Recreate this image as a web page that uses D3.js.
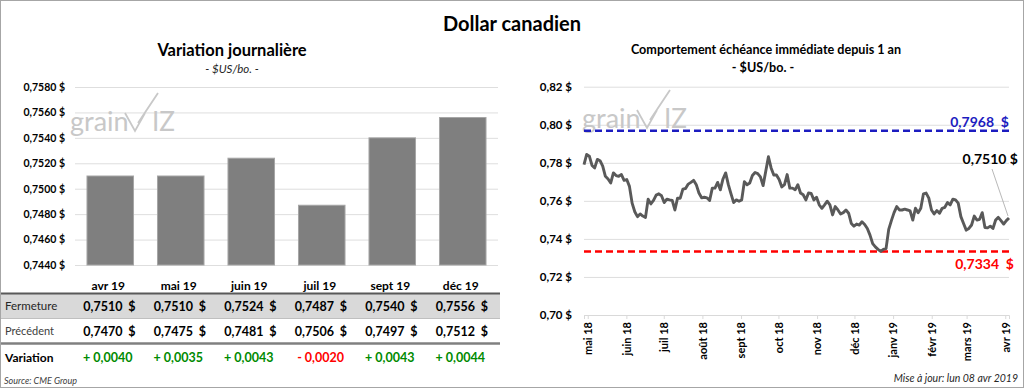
<!DOCTYPE html>
<html><head><meta charset="utf-8">
<script src="https://cdn.jsdelivr.net/npm/d3@7"></script>
<style>
body{margin:0;background:#fff;}
svg{display:block;font-family:Lato,"Open Sans",sans-serif;}
</style></head>
<body><svg id="c" width="1024" height="388"></svg>
<script>
// ---- data ----
const contracts = ["avr 19","mai 19","juin 19","juil 19","sept 19","déc 19"];
const closeVals = [0.7510,0.7510,0.7524,0.7487,0.7540,0.7556];
const prevVals  = [0.7470,0.7475,0.7481,0.7506,0.7497,0.7512];
const changeVals= [0.0040,0.0035,0.0043,-0.0020,0.0043,0.0044];
const leftTicks = [0.7440,0.7460,0.7480,0.7500,0.7520,0.7540,0.7560,0.7580];
const rightTicks = [0.70,0.72,0.74,0.76,0.78,0.80,0.82];
const monthLabels = ["mai 18","juin 18","juil 18","août 18","sept 18","oct 18","nov 18","déc 18","janv 19","févr 19","mars 19","avr 19"];
const periodStart = new Date(2018,3,28), periodEnd = new Date(2019,3,4);
const highLevel = 0.7968, lowLevel = 0.7334, lastLevel = 0.7510;
const history = [0.7791,0.7844,0.7835,0.7786,0.7773,0.7818,0.7811,0.7782,0.7729,0.7715,
0.7694,0.7747,0.7733,0.7729,0.7738,0.7708,0.7712,0.7676,0.7588,0.7543,
0.7517,0.7531,0.7520,0.7513,0.7609,0.7584,0.7602,0.7630,0.7637,0.7627,
0.7591,0.7609,0.7605,0.7602,0.7552,0.7614,0.7614,0.7662,0.7665,0.7688,
0.7697,0.7708,0.7685,0.7641,0.7616,0.7619,0.7616,0.7602,0.7667,0.7667,
0.7697,0.7658,0.7715,0.7747,0.7685,0.7637,0.7591,0.7605,0.7598,0.7605,
0.7701,0.7685,0.7694,0.7733,0.7749,0.7743,0.7726,0.7680,0.7756,0.7832,
0.7773,0.7736,0.7736,0.7712,0.7673,0.7685,0.7738,0.7667,0.7667,0.7658,
0.7685,0.7641,0.7632,0.7605,0.7641,0.7639,0.7605,0.7619,0.7579,0.7561,
0.7579,0.7598,0.7579,0.7526,0.7570,0.7552,0.7531,0.7538,0.7552,0.7535,
0.7481,0.7467,0.7478,0.7473,0.7490,0.7476,0.7455,0.7420,0.7375,0.7358,
0.7345,0.7334,0.7345,0.7349,0.7450,0.7496,0.7538,0.7570,0.7552,0.7552,
0.7556,0.7552,0.7547,0.7499,0.7561,0.7538,0.7561,0.7637,0.7641,0.7614,
0.7552,0.7531,0.7549,0.7535,0.7561,0.7566,0.7591,0.7579,0.7609,0.7605,
0.7588,0.7517,0.7481,0.7446,0.7455,0.7473,0.7520,0.7499,0.7503,0.7538,
0.7460,0.7458,0.7467,0.7455,0.7499,0.7513,0.7496,0.7478,0.7496,0.7510];

const svg = d3.select("#c");
const fr = v => v.toFixed(4).replace(".", ",");

// frame
svg.append("rect").attr("x",0.5).attr("y",0.5).attr("width",1023).attr("height",387)
  .attr("fill","#fff").attr("stroke","#a6a6a6");

// main title
svg.append("text").attr("x",512).attr("y",31).attr("text-anchor","middle")
  .attr("font-size",20).attr("font-weight","bold").attr("fill","#000").text("Dollar canadien");

// ---------- LEFT CHART ----------
const xL = d3.scaleBand().domain(contracts).range([75,498]).paddingInner(0.34).paddingOuter(0.17);
const yL = d3.scaleLinear().domain([0.7440,0.7580]).range([265,87]);

svg.append("text").attr("x",232).attr("y",56).attr("text-anchor","middle")
  .attr("font-size",16.5).attr("font-weight","bold").text("Variation journalière");
svg.append("text").attr("x",232).attr("y",73).attr("text-anchor","middle")
  .attr("font-size",11.5).attr("font-style","italic").attr("fill","#262626").text("- $US/bo. -");

const gL = svg.append("g").attr("transform","translate(75,0)")
  .call(d3.axisLeft(yL).tickValues(leftTicks).tickSize(-423).tickFormat(d => fr(d)+" $"));
gL.select(".domain").remove();
gL.selectAll(".tick line").attr("stroke","#dedede");
gL.selectAll(".tick text").attr("x",-10).attr("font-size",10.5).attr("font-weight","bold")
  .attr("fill","#000").attr("font-family","Lato,sans-serif");

function watermark(x, y){
  const g = svg.append("g").attr("transform",`translate(${x},${y})`).attr("fill","#c8c8c8");
  g.append("text").attr("x",0).attr("y",0).attr("font-size",27).attr("font-family","Lato,sans-serif").text("grain");
  g.append("path").attr("d","M55,-18 L65,0 L75,-18 M68,-8 L88,-38")
    .attr("fill","none").attr("stroke","#c8c8c8").attr("stroke-width",1.8);
  g.append("text").attr("x",82).attr("y",0).attr("font-size",26).attr("font-family","Lato,sans-serif").text("IZ");
}
watermark(70,131);

svg.append("g").selectAll("rect").data(contracts).join("rect")
  .attr("x",d=>xL(d)).attr("width",xL.bandwidth())
  .attr("y",(d,i)=>yL(closeVals[i])).attr("height",(d,i)=>265-yL(closeVals[i]))
  .attr("fill","#7f7f7f").attr("stroke","#a6a6a6").attr("stroke-width",1);

// table
svg.append("rect").attr("x",1).attr("y",294).attr("width",499).attr("height",24).attr("fill","#d9d9d9");
svg.append("line").attr("x1",1).attr("x2",500).attr("y1",293.5).attr("y2",293.5).attr("stroke","#595959").attr("stroke-width",2);
svg.append("line").attr("x1",1).attr("x2",500).attr("y1",318.5).attr("y2",318.5).attr("stroke","#bfbfbf").attr("stroke-width",1);
svg.append("line").attr("x1",1).attr("x2",500).attr("y1",343.5).attr("y2",343.5).attr("stroke","#808080").attr("stroke-width",2.5);

const cx = d => xL(d)+xL.bandwidth()/2;
const right = d => xL(d)+xL.bandwidth();
svg.append("g").selectAll("text").data(contracts).join("text")
  .attr("x",d=>cx(d)-2).attr("y",290).attr("text-anchor","middle")
  .attr("font-size",12).attr("font-weight","bold").text(d=>d);

svg.append("text").attr("x",5).attr("y",310).attr("font-size",11.5).attr("fill","#262626").text("Fermeture");
svg.append("text").attr("x",5).attr("y",335).attr("font-size",11).attr("fill","#404040").text("Précédent");
svg.append("text").attr("x",5).attr("y",362).attr("font-size",12).attr("font-weight","bold").text("Variation");

function valueRow(vals, y){
  const g = svg.append("g").attr("font-size",12.5).attr("font-weight","bold").attr("fill","#000");
  g.selectAll("text.n").data(contracts).join("text").attr("class","n")
    .attr("x",d=>right(d)-11).attr("y",y).attr("text-anchor","end").text((d,i)=>fr(vals[i]));
  g.selectAll("text.s").data(contracts).join("text").attr("class","s")
    .attr("x",d=>right(d)+2).attr("y",y).attr("text-anchor","end").text("$");
}
valueRow(closeVals,310.5);
valueRow(prevVals,335.5);

svg.append("g").selectAll("text").data(contracts).join("text")
  .attr("x",d=>right(d)-1).attr("y",362).attr("text-anchor","end")
  .attr("font-size",12.5).attr("font-weight","bold")
  .attr("fill",(d,i)=>changeVals[i]<0?"#ff0000":"#008a00")
  .text((d,i)=>(changeVals[i]<0?"- ":"+ ")+fr(Math.abs(changeVals[i])));

svg.append("text").attr("x",4).attr("y",384).attr("font-size",9).attr("font-style","italic")
  .attr("fill","#404040").text("Source: CME Group");

// ---------- RIGHT CHART ----------
const yR = d3.scaleLinear().domain([0.70,0.82]).range([315,86.7]);
const xT = d3.scaleTime().domain([periodStart,periodEnd]).range([584,1009]);
const xI = d3.scaleLinear().domain([0,history.length-1]).range([584,1009]);

svg.append("text").attr("x",766).attr("y",54).attr("text-anchor","middle")
  .attr("font-size",12.6).attr("font-weight","bold").text("Comportement échéance immédiate depuis 1 an");
svg.append("text").attr("x",763).attr("y",72).attr("text-anchor","middle")
  .attr("font-size",12.6).attr("font-weight","bold").text("- $US/bo. -");

const gR = svg.append("g").attr("transform","translate(584,0)")
  .call(d3.axisLeft(yR).tickValues(rightTicks).tickSize(-425).tickFormat(d=>d.toFixed(2).replace(".",",")+" $"));
gR.select(".domain").remove();
gR.selectAll(".tick line").attr("stroke","#dedede");
gR.selectAll(".tick text").attr("x",-12).attr("font-size",11.5).attr("font-weight","bold")
  .attr("fill","#000").attr("font-family","Lato,sans-serif");

watermark(582,128);

const months = d3.timeMonth.range(new Date(2018,4,1), new Date(2019,3,2));
const gX = svg.append("g").attr("transform","translate(0,315)")
  .call(d3.axisBottom(xT).tickValues(months).tickSize(4).tickFormat((d,i)=>monthLabels[i]));
gX.select(".domain").attr("stroke","#d9d9d9");
gX.selectAll(".tick line").attr("stroke","#d9d9d9");
gX.selectAll(".tick text").attr("transform","rotate(-90)").attr("text-anchor","end")
  .attr("x",-7).attr("y",0).attr("dy","0.35em").attr("font-size",11).attr("font-weight","bold")
  .attr("fill","#000").attr("font-family","Lato,sans-serif");

// reference lines
svg.append("line").attr("x1",584).attr("x2",1009).attr("y1",yR(highLevel)).attr("y2",yR(highLevel))
  .attr("stroke","#1c1cc0").attr("stroke-width",2.5).attr("stroke-dasharray","7,4");
svg.append("line").attr("x1",584).attr("x2",1009).attr("y1",yR(lowLevel)).attr("y2",yR(lowLevel))
  .attr("stroke","#ff0000").attr("stroke-width",2.5).attr("stroke-dasharray","7,4");

svg.append("path").datum(history)
  .attr("d",d3.line().x((d,i)=>xI(i)).y(d=>yR(d)))
  .attr("fill","none").attr("stroke","#595959").attr("stroke-width",2.9).attr("stroke-linejoin","round");

svg.append("text").attr("x",1009).attr("y",yR(highLevel)-4).attr("text-anchor","end")
  .attr("font-size",14).attr("font-weight","bold").attr("fill","#1c1cc0").attr("xml:space","preserve")
  .text(fr(highLevel)+"  $");
svg.append("text").attr("x",1014).attr("y",yR(lowLevel)+18).attr("text-anchor","end")
  .attr("font-size",14).attr("font-weight","bold").attr("fill","#ff0000").attr("xml:space","preserve")
  .text(fr(lowLevel)+"  $");
svg.append("line").attr("x1",992).attr("y1",169).attr("x2",xI(history.length-1)-1).attr("y2",yR(lastLevel)-2)
  .attr("stroke","#a6a6a6").attr("stroke-width",0.8);
svg.append("text").attr("x",1018).attr("y",164).attr("text-anchor","end")
  .attr("font-size",14).attr("font-weight","bold").attr("fill","#000").text(fr(lastLevel)+" $");

svg.append("text").attr("x",1018).attr("y",382).attr("text-anchor","end")
  .attr("font-size",10.5).attr("font-style","italic").attr("fill","#262626").text("Mise à jour: lun 08 avr 2019");
</script></body></html>
